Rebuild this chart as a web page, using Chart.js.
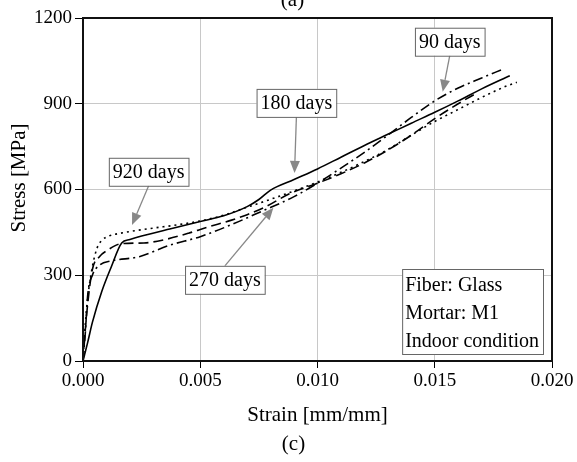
<!DOCTYPE html>
<html>
<head>
<meta charset="utf-8">
<script src="https://cdn.jsdelivr.net/npm/chart.js@4.4.1/dist/chart.umd.min.js"></script>
<style>
  html, body { margin: 0; padding: 0; background: #fff; }
</style>
</head>
<body>
<canvas id="chart" width="577" height="462"></canvas>
<script>
// series (strain in mm/mm, stress in MPa)
const strain90 = [0, 0.0001, 0.0002, 0.0004, 0.0007, 0.0012, 0.0024, 0.0037, 0.005, 0.0063, 0.0076, 0.009, 0.010, 0.011, 0.012, 0.013, 0.014, 0.015, 0.016, 0.017, 0.0179];
const stress90 = [0, 100, 230, 300, 335, 350, 365, 405, 435, 476, 523, 575, 622, 675, 730, 790, 852, 910, 955, 990, 1021];

const strain180 = [0, 0.0002, 0.0004, 0.0008, 0.0012, 0.00165, 0.002, 0.0025, 0.0037, 0.005, 0.006, 0.007, 0.0075, 0.008, 0.009, 0.010, 0.011, 0.012, 0.013, 0.014, 0.015, 0.016, 0.017, 0.0182];
const stress180 = [0, 65, 135, 243, 328, 413, 425, 437, 462, 488, 508, 540, 565, 598, 635, 672, 713, 754, 793, 832, 870, 910, 952, 998];

const strain270 = [0, 0.0001, 0.0002, 0.0004, 0.0007, 0.001, 0.0016, 0.0026, 0.0035, 0.0045, 0.0053, 0.0063, 0.007, 0.0078, 0.0088, 0.010, 0.011, 0.012, 0.013, 0.014, 0.015, 0.016, 0.0168];
const stress270 = [0, 110, 200, 320, 365, 385, 410, 413, 425, 447, 468, 492, 512, 540, 585, 622, 655, 693, 738, 790, 848, 900, 938];

const strain920 = [0, 0.0001, 0.0002, 0.0004, 0.0006, 0.0008, 0.0011, 0.0016, 0.002, 0.003, 0.004, 0.005, 0.006, 0.007, 0.0078, 0.009, 0.010, 0.011, 0.012, 0.013, 0.014, 0.015, 0.016, 0.017, 0.018, 0.0185];
const stress920 = [0, 130, 220, 330, 395, 422, 437, 447, 453, 465, 476, 490, 510, 538, 560, 595, 626, 660, 698, 740, 790, 838, 880, 922, 960, 975];

const seriesLabels = ['90 days', '180 days', '270 days', '920 days'];
const xTicks = [0, 0.005, 0.010, 0.015, 0.020];
const yTicks = [0, 300, 600, 900, 1200];
const noteLines = ['Fiber: Glass', 'Mortar: M1', 'Indoor condition'];

const serif = '"Liberation Serif", "Times New Roman", serif';
Chart.defaults.font.family = serif;
Chart.defaults.color = '#000';

function pairs(xs, ys) {
  return xs.map((v, i) => ({ x: v, y: ys[i] }));
}

// frame around the plot area
const framePlugin = {
  id: 'frame',
  afterDatasetsDraw(chart) {
    const { ctx, chartArea: a } = chart;
    ctx.save();
    ctx.strokeStyle = '#111';
    ctx.lineWidth = 2;
    ctx.strokeRect(a.left, a.top, a.right - a.left, a.bottom - a.top);
    ctx.restore();
  }
};

// labelled boxes with arrows, the note box, y title and panel letters
const calloutPlugin = {
  id: 'callouts',
  afterDraw(chart, args, opts) {
    const { ctx, chartArea: a } = chart;
    const xs = chart.scales.x, ys = chart.scales.y;
    ctx.save();
    ctx.font = '20px ' + serif;

    opts.items.forEach(c => {
      const text = chart.data.datasets[c.dataset].label;
      const cx = xs.getPixelForValue(c.box[0]), cy = ys.getPixelForValue(c.box[1]);
      const tx = xs.getPixelForValue(c.tip[0]), ty = ys.getPixelForValue(c.tip[1]);
      const w = ctx.measureText(text).width + 8, h = 28;
      const sx = cx, sy = ty < cy ? cy - h / 2 : cy + h / 2;

      const ang = Math.atan2(ty - sy, tx - sx);
      const hl = 12, hw = 5;
      const bx = tx - hl * Math.cos(ang), by = ty - hl * Math.sin(ang);
      ctx.strokeStyle = '#888';
      ctx.fillStyle = '#888';
      ctx.lineWidth = 1.3;
      ctx.beginPath();
      ctx.moveTo(sx, sy);
      ctx.lineTo(bx, by);
      ctx.stroke();
      ctx.beginPath();
      ctx.moveTo(tx, ty);
      ctx.lineTo(bx + hw * Math.sin(ang), by - hw * Math.cos(ang));
      ctx.lineTo(bx - hw * Math.sin(ang), by + hw * Math.cos(ang));
      ctx.closePath();
      ctx.fill();

      ctx.fillStyle = '#fff';
      ctx.fillRect(cx - w / 2, cy - h / 2, w, h);
      ctx.strokeStyle = '#666';
      ctx.lineWidth = 1;
      ctx.strokeRect(cx - w / 2 + 0.5, cy - h / 2 + 0.5, w, h);
      ctx.fillStyle = '#000';
      ctx.textAlign = 'center';
      ctx.textBaseline = 'middle';
      ctx.fillText(text, cx, cy + 1);
    });

    // note box, bottom right
    let nw = 0;
    noteLines.forEach(t => { nw = Math.max(nw, ctx.measureText(t).width); });
    nw += 7;
    const nh = 85;
    const nx = a.right - 9 - nw, ny = a.bottom - 7 - nh;
    ctx.fillStyle = '#fff';
    ctx.fillRect(nx, ny, nw, nh);
    ctx.strokeStyle = '#666';
    ctx.lineWidth = 1;
    ctx.strokeRect(nx + 0.5, ny + 0.5, nw, nh);
    ctx.fillStyle = '#000';
    ctx.textAlign = 'left';
    ctx.textBaseline = 'middle';
    noteLines.forEach((t, i) => ctx.fillText(t, nx + 3, ny + 17 + i * 28));

    // y axis title, a little above the plot's middle as in the figure
    ctx.font = '21px ' + serif;
    ctx.save();
    ctx.translate(19, 178);
    ctx.rotate(-Math.PI / 2);
    ctx.textAlign = 'center';
    ctx.textBaseline = 'middle';
    ctx.fillText(opts.yTitle, 0, 0);
    ctx.restore();

    // panel letters
    ctx.textAlign = 'center';
    ctx.textBaseline = 'alphabetic';
    ctx.fillText('(a)', chart.width / 2 + 4, 6);
    ctx.fillText('(c)', chart.width / 2 + 5, 450);
    ctx.restore();
  }
};

const lineStyle = (dash) => ({
  borderColor: '#000',
  borderWidth: 1.6,
  borderDash: dash,
  pointRadius: 0,
  fill: false,
  cubicInterpolationMode: 'monotone'
});

new Chart(document.getElementById('chart'), {
  type: 'line',
  data: {
    datasets: [
      { label: seriesLabels[0], data: pairs(strain90, stress90), ...lineStyle([10, 4, 2, 4]) },
      { label: seriesLabels[1], data: pairs(strain180, stress180), ...lineStyle([]) },
      { label: seriesLabels[2], data: pairs(strain270, stress270), ...lineStyle([10, 5]) },
      { label: seriesLabels[3], data: pairs(strain920, stress920), ...lineStyle([2, 4]) }
    ]
  },
  options: {
    responsive: false,
    animation: false,
    layout: { padding: { top: 18, right: 25, left: 0, bottom: 30 } },
    plugins: {
      legend: { display: false },
      tooltip: { enabled: false },
      callouts: {
        yTitle: 'Stress [MPa]',
        items: [
          { dataset: 0, box: [0.01564, 1117], tip: [0.01534, 942] },
          { dataset: 1, box: [0.0091, 903], tip: [0.00902, 658] },
          { dataset: 2, box: [0.00605, 284], tip: [0.00812, 536] },
          { dataset: 3, box: [0.0028, 662], tip: [0.00209, 476] }
        ]
      }
    },
    scales: {
      x: {
        type: 'linear',
        min: xTicks[0],
        max: xTicks[xTicks.length - 1],
        afterBuildTicks: s => { s.ticks = xTicks.map(v => ({ value: v })); },
        afterFit: s => { s.height = 71; },
        ticks: {
          callback: v => Number(v).toFixed(3),
          font: { size: 19 },
          padding: 2,
          maxRotation: 0
        },
        grid: { color: '#c8c8c8', tickColor: '#000', tickLength: 7, lineWidth: 1 },
        border: { color: '#000', width: 2 },
        title: { display: true, text: 'Strain [mm/mm]', font: { size: 21 }, padding: { top: 4, bottom: 4 } }
      },
      y: {
        min: yTicks[0],
        max: yTicks[yTicks.length - 1],
        afterBuildTicks: s => { s.ticks = yTicks.map(v => ({ value: v })); },
        afterFit: s => { s.width = 83; },
        ticks: {
          callback: v => String(v),
          font: { size: 19 },
          padding: 3
        },
        grid: { color: '#c8c8c8', tickColor: '#000', tickLength: 8, lineWidth: 1 },
        border: { color: '#000', width: 2 }
      }
    }
  },
  plugins: [framePlugin, calloutPlugin]
});
</script>
</body>
</html>
